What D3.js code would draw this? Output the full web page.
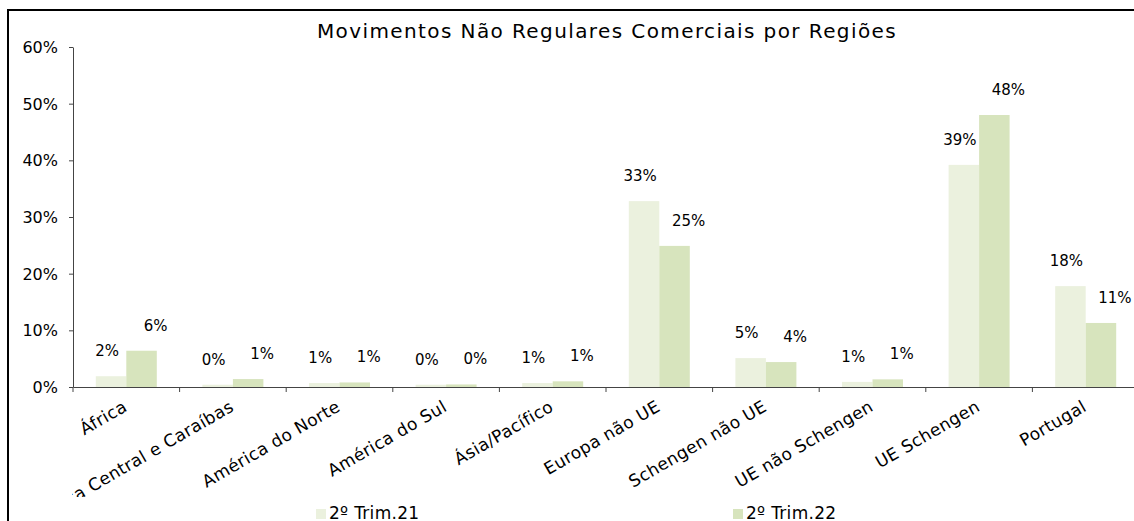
<!DOCTYPE html>
<html>
<head>
<meta charset="utf-8">
<script src="https://cdn.jsdelivr.net/npm/d3@7"></script>
<style>
  body { margin: 0; background: #fff; }
  svg { display: block; font-family: "DejaVu Sans", Verdana, sans-serif; }
</style>
</head>
<body>
<div id="chart-container"></div>
<script>
const regions = [
  "África",
  "América Central e Caraíbas",
  "América do Norte",
  "América do Sul",
  "Ásia/Pacífico",
  "Europa não UE",
  "Schengen não UE",
  "UE não Schengen",
  "UE Schengen",
  "Portugal",
];
const seriesNames = ["2º Trim.21", "2º Trim.22"];
const trim21 = [1.9, 0.4, 0.7, 0.4, 0.7, 32.8, 5.1, 0.9, 39.2, 17.8];
const trim22 = [6.4, 1.4, 0.8, 0.45, 1.0, 24.9, 4.4, 1.35, 48.0, 11.3];
const yTicks = [0, 10, 20, 30, 40, 50, 60];

const colors = ["#ebf1de", "#d7e4bd"];
const W = 1134, H = 521;
const margin = { top: 47, left: 73, bottom: 134 };
const plotRight = 1139;
const y0 = H - margin.bottom; // baseline

const svg = d3
  .select("#chart-container")
  .append("svg")
  .attr("width", W)
  .attr("height", H);

// outer frame (left and top edges visible)
svg.append("path")
  .attr("d", `M8,${H} V10 H${W}`)
  .attr("fill", "none")
  .attr("stroke", "#000")
  .attr("stroke-width", 2);

const x = d3.scaleBand().domain(regions).range([margin.left, plotRight]);
const xs = d3.scaleBand().domain(seriesNames).range([0, 61]);
const y = d3.scaleLinear().domain([0, 60]).range([y0, margin.top]);

// title
svg.append("text")
  .attr("x", 607)
  .attr("y", 38)
  .attr("text-anchor", "middle")
  .attr("font-size", 20)
  .attr("letter-spacing", 1.4)
  .text("Movimentos Não Regulares Comerciais por Regiões");

// bars
const rows = regions.map((r, i) => ({ region: r, vals: [trim21[i], trim22[i]] }));
const groups = svg.selectAll(".grp")
  .data(rows)
  .enter()
  .append("g")
  .attr("transform", (d) => `translate(${x(d.region) + x.bandwidth() / 2 - 30.5},0)`);

groups.selectAll("rect")
  .data((d) => d.vals.map((v, k) => ({ v, k })))
  .enter()
  .append("rect")
  .attr("x", (d) => xs(seriesNames[d.k]))
  .attr("width", xs.bandwidth())
  .attr("y", (d) => y(d.v))
  .attr("height", (d) => y0 - y(d.v))
  .attr("fill", (d) => colors[d.k]);

// data labels
const fmt = (v) => Math.round(v) + "%";
groups.selectAll("text")
  .data((d) => d.vals.map((v, k) => ({ v, k })))
  .enter()
  .append("text")
  .attr("x", (d) => xs(seriesNames[d.k]) + xs.bandwidth() / 2 + (d.k === 0 ? -4 : 14))
  .attr("y", (d) => y(d.v) - 20)
  .attr("text-anchor", "middle")
  .attr("font-size", 15)
  .text((d) => fmt(d.v));

// y axis
const yAxis = svg.append("g")
  .attr("transform", `translate(${margin.left},0)`)
  .call(d3.axisLeft(y).tickValues(yTicks).tickSize(4).tickSizeOuter(0).tickFormat((d) => d + "%"));
yAxis.select(".domain").attr("stroke", "#444");
yAxis.selectAll(".tick line").attr("stroke", "#444");
yAxis.selectAll(".tick text")
  .attr("x", -15)
  .attr("dy", "0.35em")
  .attr("font-size", 16)
  .attr("font-family", "DejaVu Sans, sans-serif")
  .attr("fill", "#000");

// x axis
svg.append("clipPath").attr("id", "xclip")
  .append("rect").attr("x", 72).attr("y", 0).attr("width", W).attr("height", 497);

const xAxis = svg.append("g")
  .attr("transform", `translate(0,${y0})`)
  .call(d3.axisBottom(x).tickSize(5).tickSizeOuter(0));
xAxis.select(".domain").attr("stroke", "#444");
xAxis.selectAll(".tick line")
  .attr("stroke", "#444")
  .attr("transform", `translate(${-x.bandwidth() / 2},0)`);
xAxis.selectAll(".tick text").remove();

svg.append("g")
  .attr("clip-path", "url(#xclip)")
  .selectAll("text")
  .data(regions)
  .enter()
  .append("text")
  .attr("transform", (d) => `translate(${x(d) + x.bandwidth() / 2 + 2},${y0 + 23}) rotate(-30)`)
  .attr("text-anchor", "end")
  .attr("font-size", 17)
  .attr("letter-spacing", 0.4)
  .text((d) => d);

// legend
const legendX = [316, 733];
const legend = svg.selectAll(".legend")
  .data(seriesNames)
  .enter()
  .append("g")
  .attr("transform", (d, i) => `translate(${legendX[i]},509)`);
legend.append("rect")
  .attr("width", 10)
  .attr("height", 10)
  .attr("fill", (d, i) => colors[i]);
legend.append("text")
  .attr("x", 13)
  .attr("y", 10)
  .attr("font-size", 17)
  .attr("letter-spacing", 0.3)
  .text((d) => d);
</script>
</body>
</html>
